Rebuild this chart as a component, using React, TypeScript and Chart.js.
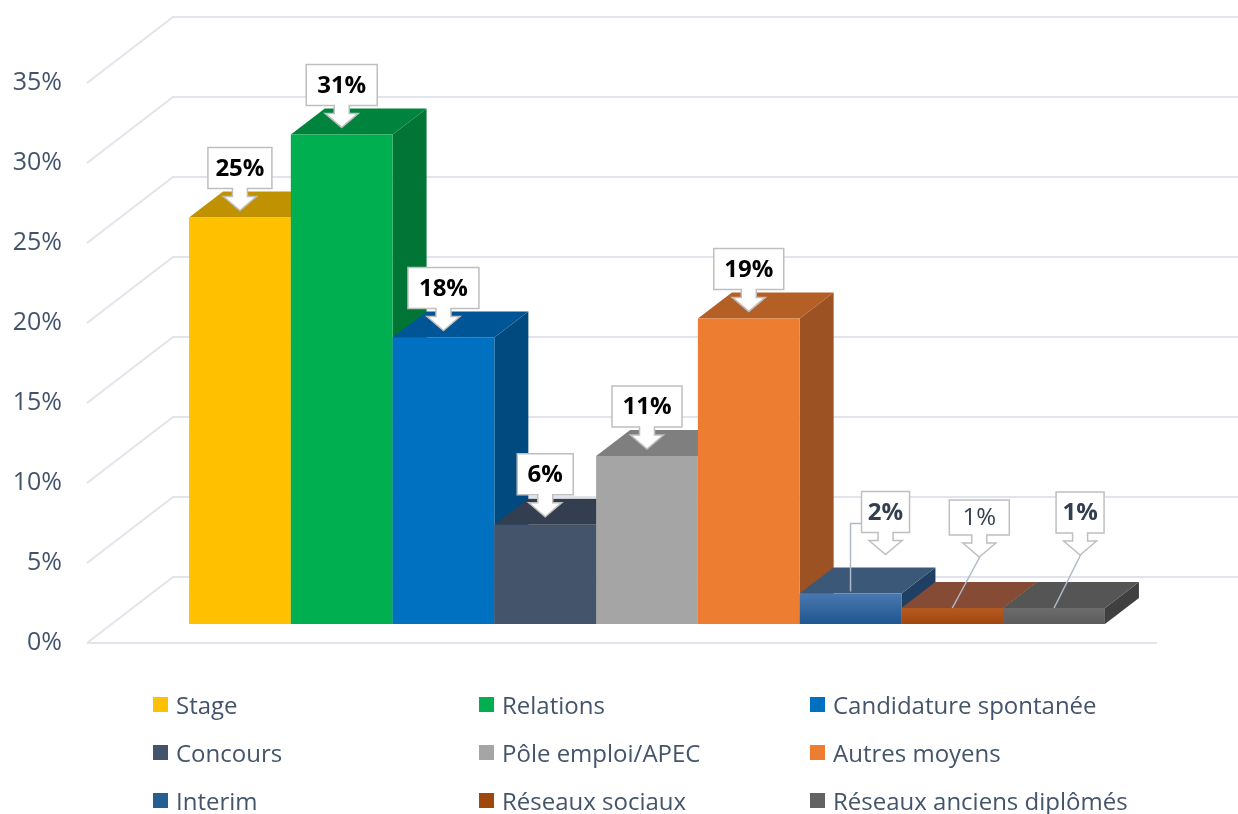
import React, { useEffect, useRef } from 'react';
import { Chart, registerables } from 'chart.js';

Chart.register(...registerables);

// ---- data ----
const categories = [
  'Stage',
  'Relations',
  'Candidature spontanée',
  'Concours',
  'Pôle emploi/APEC',
  'Autres moyens',
  'Interim',
  'Réseaux sociaux',
  'Réseaux anciens diplômés',
];
const values = [25.4, 30.6, 17.9, 6.2, 10.5, 19.1, 1.9, 1.0, 1.0];
const valueLabels = ['25%', '31%', '18%', '6%', '11%', '19%', '2%', '1%', '1%'];
const yMax = 35;
const yStep = 5;

// ---- styles ----
const legendColors = ['#FFC000', '#00B050', '#0070C0', '#44546A', '#A5A5A5', '#ED7D31', '#255E91', '#9E480E', '#636363'];
const frontTop = ['#FFC000', '#00B050', '#0070C0', '#44546A', '#A5A5A5', '#ED7D31', '#4A78AE', '#B65A22', '#6C6C6C'];
const frontBottom = ['#FFC000', '#00B050', '#0070C0', '#44546A', '#A5A5A5', '#ED7D31', '#1F5591', '#A0470E', '#5C5C5C'];
const topColors = ['#C09100', '#00843D', '#005596', '#333F50', '#7F7F7F', '#B45F25', '#3B5878', '#864B34', '#555555'];
const sideColors = ['#A07800', '#007535', '#004A80', '#2B3543', '#6B6B6B', '#9C5222', '#1F3F63', '#6E3A22', '#404040'];

const labelDx = [0, 0, 0, 0, 0, 0, 35, 27, 26];
const labelDy = [-7, -7, -7, -8, -7, -7, -39, -51, -53];
const labelBoxW = [64, 71, 71, 56, 70, 70, 48, 60, 48];
const labelBoxH = [41, 41, 41, 41, 41, 41, 41, 35, 41];
const labelBold = [true, true, true, true, true, true, true, false, true];
const labelColor = ['#000000', '#000000', '#000000', '#000000', '#000000', '#000000', '#333F50', '#333F50', '#333F50'];
const leaderType = ['', '', '', '', '', '', 'elbow', 'straight', 'straight'];

const GEO = { frontX: 25, frontY: -19, barX: 34, barY: -26, wallX: 86, wallY: -66 };
const FONT = '"Open Sans", "DejaVu Sans", sans-serif';
const TEXT_COLOR = '#44546A';

function poly(ctx: CanvasRenderingContext2D, pts: number[][], fill: string | CanvasGradient) {
  ctx.beginPath();
  ctx.moveTo(pts[0][0], pts[0][1]);
  for (let k = 1; k < pts.length; k++) ctx.lineTo(pts[k][0], pts[k][1]);
  ctx.closePath();
  ctx.fillStyle = fill;
  ctx.fill();
}

function drawCallout(
  ctx: CanvasRenderingContext2D,
  cx: number,
  tipY: number,
  w: number,
  h: number,
  text: string,
  bold: boolean,
  color: string
) {
  const stemH = 8, stemW = 7.5, headW = 16.5, headH = 14;
  const bb = tipY - stemH - headH;
  const bt = bb - h;
  const bl = cx - w / 2;
  const br = cx + w / 2;
  ctx.beginPath();
  ctx.moveTo(bl, bt);
  ctx.lineTo(br, bt);
  ctx.lineTo(br, bb);
  ctx.lineTo(cx + stemW, bb);
  ctx.lineTo(cx + stemW, bb + stemH);
  ctx.lineTo(cx + headW, bb + stemH);
  ctx.lineTo(cx, tipY);
  ctx.lineTo(cx - headW, bb + stemH);
  ctx.lineTo(cx - stemW, bb + stemH);
  ctx.lineTo(cx - stemW, bb);
  ctx.lineTo(bl, bb);
  ctx.closePath();
  ctx.fillStyle = '#FFFFFF';
  ctx.fill();
  ctx.strokeStyle = '#BFBFBF';
  ctx.lineWidth = 1.5;
  ctx.stroke();
  ctx.fillStyle = color;
  ctx.font = `${bold ? 'bold ' : ''}24px ${FONT}`;
  ctx.textAlign = 'center';
  ctx.textBaseline = 'middle';
  ctx.fillText(text, cx, bt + h / 2 + 1);
}

const bars3d = {
  id: 'bars3d',
  beforeDatasetDraw() {
    return false;
  },
  beforeDatasetsDraw(chart: any) {
    const ctx: CanvasRenderingContext2D = chart.ctx;
    const ys = chart.scales.y;
    const { left, right } = chart.chartArea;
    ctx.save();
    ctx.strokeStyle = '#E1E4EA';
    ctx.lineWidth = 2;
    ys.ticks.forEach((t: any) => {
      const y = ys.getPixelForValue(t.value);
      ctx.beginPath();
      ctx.moveTo(left, y);
      ctx.lineTo(left + GEO.wallX, y + GEO.wallY);
      ctx.lineTo(right + GEO.wallX, y + GEO.wallY);
      ctx.stroke();
    });
    const y0 = ys.getPixelForValue(0);
    ctx.beginPath();
    ctx.moveTo(left, y0);
    ctx.lineTo(right, y0);
    ctx.stroke();
    ctx.restore();
  },
  afterDatasetsDraw(chart: any) {
    const ctx: CanvasRenderingContext2D = chart.ctx;
    ctx.save();
    const boxes: any[] = [];
    chart.data.datasets.forEach((ds: any, i: number) => {
      const meta = chart.getDatasetMeta(i);
      if (meta.hidden || !meta.data[0]) return;
      const p = meta.data[0].getProps(['x', 'y', 'base', 'width'], true);
      const l = p.x - p.width / 2 + GEO.frontX;
      const r = p.x + p.width / 2 + GEO.frontX;
      const t = p.y + GEO.frontY;
      const b = p.base + GEO.frontY;
      const dx = GEO.barX, dy = GEO.barY;
      poly(ctx, [[r, t], [r + dx, t + dy], [r + dx, b + dy], [r, b]], sideColors[i]);
      poly(ctx, [[l, t], [r, t], [r + dx, t + dy], [l + dx, t + dy]], topColors[i]);
      const g = ctx.createLinearGradient(0, t, 0, b);
      g.addColorStop(0, frontTop[i]);
      g.addColorStop(1, frontBottom[i]);
      poly(ctx, [[l, t], [r, t], [r, b], [l, b]], g);
      boxes.push({ i, cx: (l + r) / 2, t });
    });
    boxes.forEach(({ i, cx, t }) => {
      const tipX = cx + labelDx[i];
      const tipY = t + labelDy[i];
      const stemH = 8, headH = 14;
      const bt = tipY - stemH - headH - labelBoxH[i];
      const bl = tipX - labelBoxW[i] / 2;
      ctx.strokeStyle = '#AEB9CA';
      ctx.lineWidth = 1.5;
      if (leaderType[i] === 'elbow') {
        const ly = bt + 32;
        ctx.beginPath();
        ctx.moveTo(bl, ly);
        ctx.lineTo(cx, ly);
        ctx.lineTo(cx, t - 2);
        ctx.stroke();
      } else if (leaderType[i] === 'straight') {
        ctx.beginPath();
        ctx.moveTo(tipX + 1, tipY - 1);
        ctx.lineTo(cx, t);
        ctx.stroke();
      }
      drawCallout(ctx, tipX, tipY, labelBoxW[i], labelBoxH[i], valueLabels[i], labelBold[i], labelColor[i]);
    });
    ctx.restore();
  },
};

export default function App() {
  const canvasRef = useRef<HTMLCanvasElement | null>(null);

  useEffect(() => {
    if (!canvasRef.current) return;
    const chart = new Chart(canvasRef.current, {
      type: 'bar',
      data: {
        labels: [''],
        datasets: categories.map((c, i) => ({
          label: c,
          data: [values[i]],
          backgroundColor: legendColors[i],
          categoryPercentage: 0.856,
          barPercentage: 1,
        })),
      },
      options: {
        animation: false,
        responsive: true,
        maintainAspectRatio: false,
        layout: { padding: { top: 83, bottom: 171, left: 0, right: 81 } },
        plugins: {
          legend: { display: false },
          tooltip: { enabled: false },
        },
        scales: {
          x: { display: false },
          y: {
            min: 0,
            max: yMax,
            grid: { display: false },
            border: { display: false },
            afterFit: (s: any) => {
              s.width = 87;
            },
            ticks: {
              stepSize: yStep,
              padding: 17,
              color: TEXT_COLOR,
              font: { family: FONT, size: 25 },
              callback: (v: any) => `${v}%`,
            },
          },
        },
      },
      plugins: [bars3d],
    });
    return () => chart.destroy();
  }, []);

  const colLeft = [153, 479, 810];
  const rowTop = [680, 728, 776];

  return (
    <div style={{ position: 'fixed', left: 0, top: 0, width: 1238, height: 814, background: '#FFFFFF', overflow: 'hidden' }}>
      <canvas ref={canvasRef} style={{ position: 'absolute', left: 0, top: 0, width: 1238, height: 814 }} />
      {categories.map((c, i) => (
        <div
          key={c}
          style={{
            position: 'absolute',
            left: colLeft[i % 3],
            top: rowTop[Math.floor(i / 3)],
            height: 48,
            display: 'flex',
            alignItems: 'center',
            fontFamily: FONT,
            fontSize: 24,
            color: TEXT_COLOR,
            whiteSpace: 'nowrap',
          }}
        >
          <span style={{ display: 'inline-block', width: 15, height: 15, background: legendColors[i], marginRight: 8 }} />
          <span>{c}</span>
        </div>
      ))}
    </div>
  );
}
